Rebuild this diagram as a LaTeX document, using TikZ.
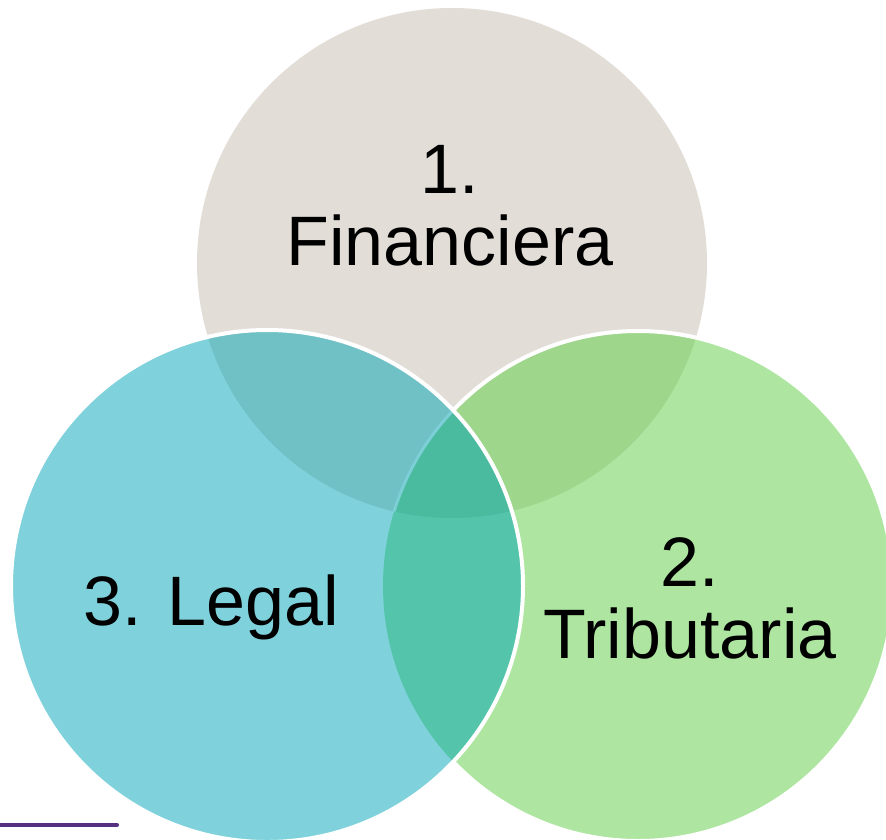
\documentclass[tikz,border=0pt]{standalone}
\usepackage{fontspec}
\setmainfont{Liberation Sans}
\definecolor{beigec}{HTML}{E2DED7}
\definecolor{greenc}{HTML}{AEE6A1}
\definecolor{bluec}{HTML}{7FD2DB}
\definecolor{bgovl}{HTML}{9ED68C}
\definecolor{bbovl}{HTML}{70C1C5}
\definecolor{gbovl}{HTML}{54C5AA}
\definecolor{allovl}{HTML}{4BBB9F}
\definecolor{stripec}{HTML}{7CCFD6}
\definecolor{purplec}{HTML}{55307F}
\tikzset{
  lbl/.style={inner sep=0pt, align=center, text=black, font=\fontsize{70}{72}\selectfont},
  ring/.style={draw=white, line width=4pt}
}
\begin{document}
\begin{tikzpicture}[x=1pt,y=-1pt]
\useasboundingbox (0,0) rectangle (886,839);
\clip (0,0) rectangle (886,839);
\coordinate (cA) at (452,263);
\coordinate (cB) at (638,586);
\coordinate (cC) at (267,586);
% top circle
\fill[beigec] (cA) circle (255pt);
% green circle
\fill[greenc] (cB) circle (255pt);
\begin{scope}
  \clip (cA) circle (255pt);
  \fill[bgovl] (cB) circle (255pt);
\end{scope}
% green border (covered later by the blue circle)
\draw[ring] (cB) circle (255pt);
% blue circle
\fill[bluec] (cC) circle (256pt);
\begin{scope}
  \clip (cC) circle (256pt);
  \fill[bbovl] (cA) circle (255pt);
  \fill[gbovl] (cB) circle (255pt);
  \clip (cA) circle (255pt);
  \fill[allovl] (cB) circle (255pt);
  \draw[stripec, line width=3pt] (cB) circle (255pt);
\end{scope}
\draw[ring] (cC) circle (256pt);
% purple line
\coordinate (pl1) at (0,825);
\coordinate (pl2) at (117,825);
\draw[purplec, line width=4pt, line cap=round] (pl1) -- (pl2);
% labels
\node[lbl] (t1) at (450,206) {1.\\Financiera};
\node[lbl] (t2) at (690,598) {2.\\Tributaria};
\node[lbl, anchor=base] (t3) at (211,625) {3. Legal};
\end{tikzpicture}
\end{document}
